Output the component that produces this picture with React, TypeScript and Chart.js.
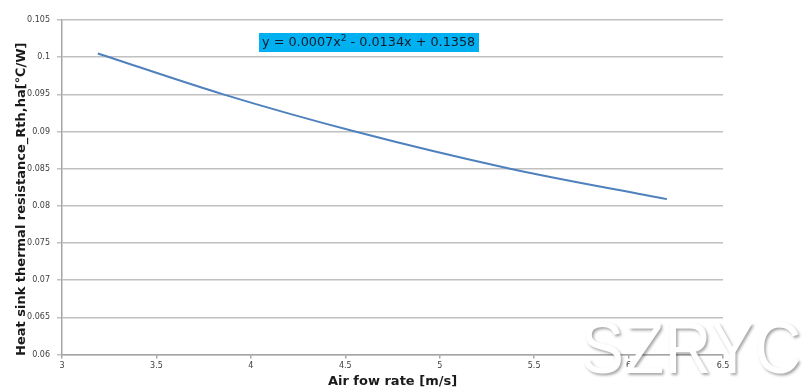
import React, { useEffect, useRef } from "react";
import { Chart, registerables } from "chart.js";

Chart.register(...registerables);

const airFlow = [3.19, 3.854, 4.552, 5.373, 6.203];
const resistance = [0.1005, 0.095, 0.09, 0.085, 0.0809];
const xTicks = [3, 3.5, 4, 4.5, 5, 5.5, 6, 6.5];
const yTicks = [0.06, 0.065, 0.07, 0.075, 0.08, 0.085, 0.09, 0.095, 0.1, 0.105];
const equationParts = ["y = 0.0007x", "2", " - 0.0134x + 0.1358"];
const xTitle = "Air fow rate [m/s]";
const yTitle = "Heat sink thermal resistance_Rth,ha[\u2103/W]";
const watermark = "SZRYC";

const equationPlugin = {
  id: "equation",
  afterDraw(chart: any) {
    const { ctx, chartArea } = chart;
    const x = chartArea.left + 197;
    const y = chartArea.top + 13;
    ctx.save();
    ctx.fillStyle = "#00b0f0";
    ctx.fillRect(x, y, 220, 19);
    ctx.fillStyle = "#141a2a";
    ctx.textBaseline = "middle";
    ctx.font = "12.8px 'DejaVu Sans'";
    let cx = x + 3;
    const cy = y + 10;
    ctx.fillText(equationParts[0], cx, cy);
    cx += ctx.measureText(equationParts[0]).width;
    ctx.font = "9px 'DejaVu Sans'";
    ctx.fillText(equationParts[1], cx, cy - 4);
    cx += ctx.measureText(equationParts[1]).width;
    ctx.font = "12.8px 'DejaVu Sans'";
    ctx.fillText(equationParts[2], cx, cy);
    ctx.restore();

    // y-axis title, placed slightly below the plot centre as in the reference
    ctx.save();
    ctx.translate(22, (chartArea.top + chartArea.bottom) / 2 + 12);
    ctx.rotate(-Math.PI / 2);
    ctx.fillStyle = "#1a1a1a";
    ctx.font = "bold 13px 'DejaVu Sans'";
    ctx.textAlign = "center";
    ctx.textBaseline = "middle";
    ctx.fillText(yTitle, 0, 0);
    ctx.restore();
  },
};

export default function App() {
  const ref = useRef<HTMLCanvasElement>(null);
  useEffect(() => {
    if (!ref.current) return;
    const chart = new Chart(ref.current, {
      type: "line",
      data: {
        datasets: [
          {
            data: airFlow.map((x, i) => ({ x, y: resistance[i] })),
            borderColor: "#4f81bd",
            borderWidth: 2,
            pointRadius: 0,
            cubicInterpolationMode: "monotone",
            fill: false,
          },
        ],
      },
      options: {
        animation: false,
        responsive: false,
        events: [],
        layout: { padding: { left: 0, top: 20, right: 86, bottom: 1 } },
        plugins: { legend: { display: false }, tooltip: { enabled: false } },
        scales: {
          x: {
            type: "linear",
            min: 3,
            max: 6.5,
            afterBuildTicks: (s: any) => {
              s.ticks = xTicks.map((v) => ({ value: v }));
            },
            afterFit: (s: any) => {
              s.height = 392 - 354.5 - 1;
            },
            ticks: {
              autoSkip: false,
              maxRotation: 0,
              padding: 3,
              color: "#404040",
              font: { size: 8, family: "DejaVu Sans" },
              callback: (v: any) => String(v),
            },
            grid: {
              drawOnChartArea: false,
              drawTicks: true,
              tickLength: 4,
              color: "#a6a6a6",
              lineWidth: 1.5,
            },
            border: { color: "#a6a6a6", width: 1.5 },
            title: {
              display: true,
              text: xTitle,
              color: "#1a1a1a",
              padding: { top: 0, bottom: 2 },
              font: { size: 13, weight: "bold", family: "DejaVu Sans" },
            },
          },
          y: {
            type: "linear",
            min: 0.06,
            max: 0.105,
            afterBuildTicks: (s: any) => {
              s.ticks = yTicks.map((v) => ({ value: v }));
            },
            afterFit: (s: any) => {
              s.width = 62;
            },
            ticks: {
              autoSkip: false,
              padding: 7,
              color: "#404040",
              font: { size: 8, family: "DejaVu Sans" },
              callback: (v: any) => String(parseFloat(Number(v).toFixed(3))),
            },
            grid: {
              color: "#c0c0c0",
              lineWidth: 1.5,
              drawTicks: true,
              tickLength: 5,
            },
            border: { color: "#a6a6a6", width: 1.5 },
            title: { display: false },
          },
        },
      },
      plugins: [equationPlugin],
    } as any);
    return () => chart.destroy();
  }, []);
  return (
    <div
      style={{
        position: "fixed",
        left: 0,
        top: 0,
        width: 809,
        height: 392,
        background: "#ffffff",
        overflow: "hidden",
      }}
    >
      <canvas ref={ref} width={809} height={392} style={{ display: "block" }} />
      <div
        style={{
          position: "absolute",
          left: 581,
          top: 303,
          fontFamily: "'Liberation Sans', sans-serif",
          fontSize: 73,
          lineHeight: "90px",
          color: "#ffffff",
          textShadow: "2px 2px 3px rgba(0,0,0,0.35)",
          transform: "scaleX(0.88)",
          transformOrigin: "left top",
          letterSpacing: "1px",
          pointerEvents: "none",
          whiteSpace: "nowrap",
        }}
      >
        {watermark}
      </div>
    </div>
  );
}
